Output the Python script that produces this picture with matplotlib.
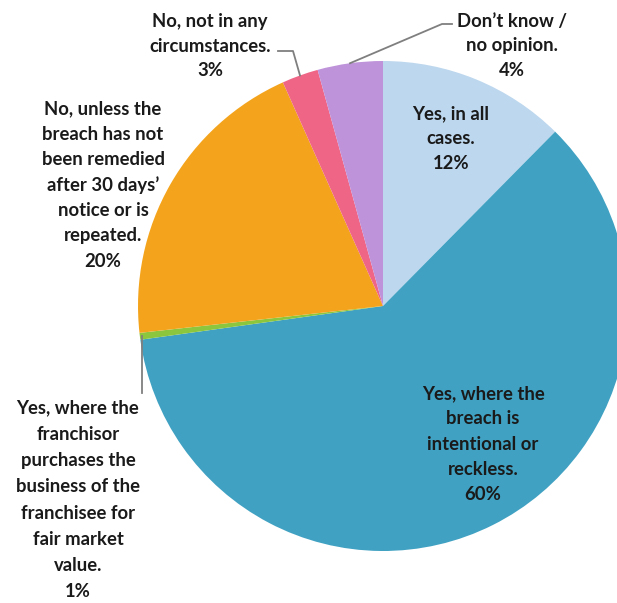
import numpy as np
import matplotlib.pyplot as plt

# slices clockwise from 12 o'clock
labels = ["Yes, in all\ncases.",
          "Yes, where the\nbreach is\nintentional or\nreckless.",
          "Yes, where the\nfranchisor\npurchases the\nbusiness of the\nfranchisee for\nfair market\nvalue.",
          "No, unless the\nbreach has not\nbeen remedied\nafter 30 days\u2019\nnotice or is\nrepeated.",
          "No, not in any\ncircumstances.",
          "Don\u2019t know /\nno opinion."]
shares = [12.4, 60.4, 0.45, 20.05, 2.4, 4.3]
pct_labels = ["12%", "60%", "1%", "20%", "3%", "4%"]
colors = ["#BDD7EE", "#40A1C2", "#8CC63E", "#F4A41C", "#EF6586", "#BE93DA"]

W, H = 617, 603
cx, cy, r = 383, H - 306, 245

fig = plt.figure(figsize=(W / 100, H / 100), dpi=100)
ax = fig.add_axes([0, 0, 1, 1])
wedges, _ = ax.pie(shares, colors=colors, startangle=90, counterclock=False,
                   center=(cx, cy), radius=r, wedgeprops=dict(linewidth=0))
ax.set_xlim(0, W)
ax.set_ylim(0, H)
ax.axis('off')

# label block centres (image pixels, y down) and line spacing
label_pos = [(451, 139), (483, 444), (78, 500), (103, 185), (210, 46), (512, 46)]
spacing = [1.56, 1.58, 1.66, 1.58, 1.56, 1.56]
for lab, pct, (x, y), ls in zip(labels, pct_labels, label_pos, spacing):
    ax.text(x, H - y, lab + "\n" + pct, ha='center', va='center', multialignment='center',
            fontsize=13.3, fontweight='bold', family=['Lato', 'DejaVu Sans'],
            color='#1a1a1a', linespacing=ls)


def edge_point(w):
    a = np.deg2rad((w.theta1 + w.theta2) / 2)
    return cx + r * np.cos(a), cy + r * np.sin(a)


gray = '#7f7f7f'
# green slice
ex, ey = edge_point(wedges[2])
ax.plot([ex + 2, ex + 2], [ey, H - 393], color=gray, lw=1.3)
# pink slice
ex, ey = edge_point(wedges[4])
ax.plot([278, 293, ex], [H - 51, H - 51, ey], color=gray, lw=1.3)
# purple slice
ex, ey = edge_point(wedges[5])
ax.plot([452, 442, ex], [H - 24, H - 24, ey], color=gray, lw=1.3)

fig.savefig("out.png", dpi=100)
